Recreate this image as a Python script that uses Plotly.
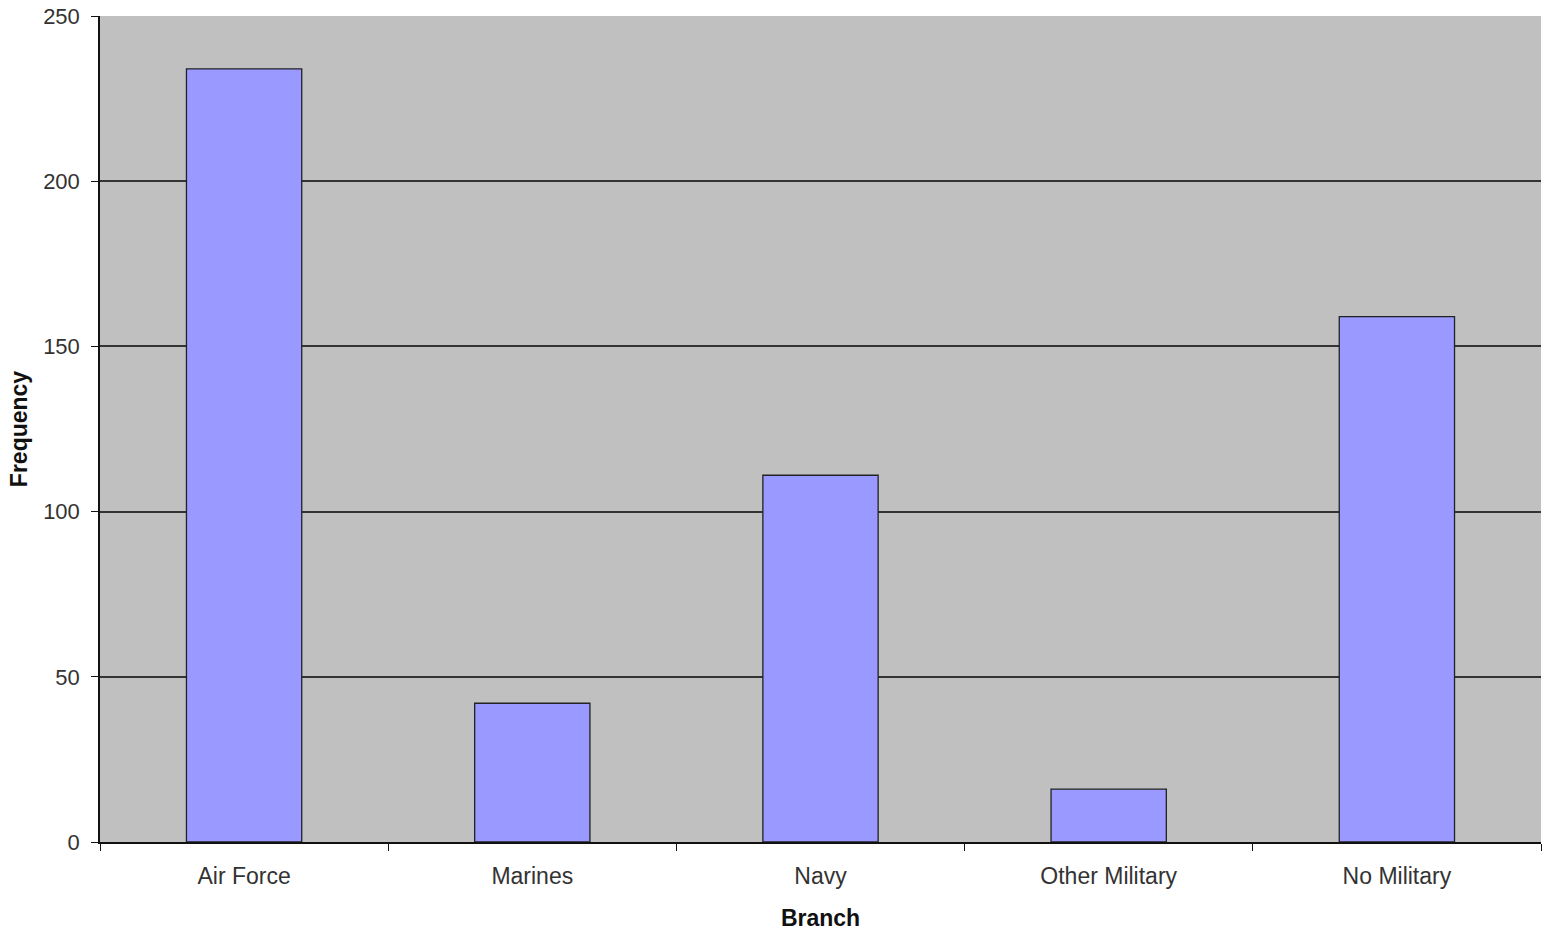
import plotly.graph_objects as go

categories = ["Air Force", "Marines", "Navy", "Other Military", "No Military"]
frequency = [234, 42, 111, 16, 159]
y_ticks = [0, 50, 100, 150, 200, 250]

fig = go.Figure(go.Bar(
    x=categories, y=frequency, width=0.4,
    marker=dict(color="#9999FF", line=dict(color="#222222", width=1.3)),
))

font = dict(family="Liberation Sans, Arial, sans-serif", color="#222222")
fig.update_layout(
    width=1549, height=934,
    margin=dict(l=100, r=8, t=16, b=92),
    paper_bgcolor="white", plot_bgcolor="#C0C0C0",
    showlegend=False,
    font=font,
    bargap=0.6,
)
fig.update_xaxes(
    title=dict(text="<b>Branch</b>", font=dict(size=23, color="#111"), standoff=22),
    tickfont=dict(size=23, color="#333"),
    showline=True, linecolor="#111", linewidth=1.5,
    ticks="outside", tickson="boundaries", ticklen=7, tickcolor="#111",
    showgrid=False, ticklabelstandoff=13, automargin=False,
)
fig.update_yaxes(
    range=[0, 250], tickvals=y_ticks,
    title=dict(text="<b>Frequency</b>", font=dict(size=23, color="#111"), standoff=9),
    tickfont=dict(size=22, color="#333"),
    showline=True, linecolor="#111", linewidth=1.5,
    ticks="outside", ticklen=7, tickcolor="#111",
    showgrid=True, gridcolor="#333333", gridwidth=1.5,
    zeroline=False, ticklabelstandoff=7, automargin=False,
)
fig.write_html("out.html", config={"displayModeBar": False},
               post_script="document.body.style.margin='0';")
